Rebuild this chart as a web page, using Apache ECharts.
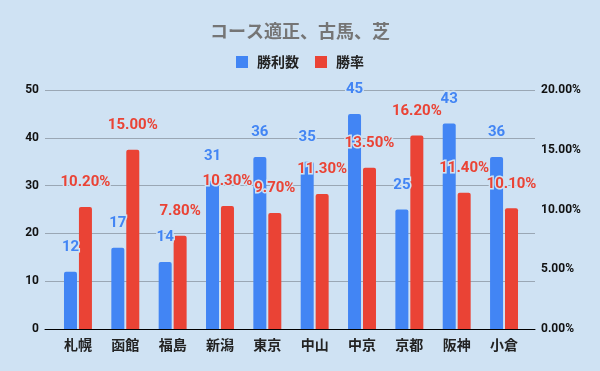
<!DOCTYPE html>
<html><head><meta charset="utf-8">
<script src="https://cdn.jsdelivr.net/npm/echarts@6/dist/echarts.min.js"></script>
<style>html,body{margin:0;padding:0;background:#cfe2f3}#c{width:600px;height:371px}</style>
</head><body><div id="c"></div>
<script>
const titleText = 'コース適正、古馬、芝';
const categories = ['札幌','函館','福島','新潟','東京','中山','中京','京都','阪神','小倉'];
const winsName = '勝利数';
const rateName = '勝率';
const wins = [12,17,14,31,36,35,45,25,43,36];
const rates = [10.2,15.0,7.8,10.3,9.7,11.3,13.5,16.2,11.4,10.1];
const leftTicks = [0,50,10];
const rightTicks = [0,20,5];

const FF = 'Roboto, "Noto Sans CJK JP", sans-serif';
const FJ = '"Noto Sans CJK JP", Roboto, sans-serif';
const BG = '#cfe2f3';
const BLUE = '#4285f4', RED = '#ea4335';
const pct = v => v.toFixed(2) + '%';

const chart = echarts.init(document.getElementById('c'), null, {renderer:'canvas'});
chart.setOption({
  backgroundColor: BG,
  animation: false,
  title: {text: titleText, left: 'center', top: 22, padding: 0,
    textStyle:{fontFamily:FJ, fontSize:18, fontWeight:'bold', color:'#757575'}},
  legend: {left: 'center', top: 55, padding: 0, itemWidth: 12, itemHeight: 12, itemGap: 16,
    icon: 'rect',
    textStyle:{fontFamily:FJ, fontSize:14, fontWeight:'bold', color:'#222', padding:[0,0,0,4]},
    data:[winsName, rateName]},
  grid: [
    {left: 45, right: 65, top: 90, bottom: 42, containLabel:false},
    {left: 54.3, right: 72.3, top: 90, bottom: 42, containLabel:false}
  ],
  xAxis: [
    {gridIndex:0, type:'value', min:0, max:1, show:true,
      axisLine:{show:true, onZero:false, lineStyle:{color:'#000', width:1}},
      axisTick:{show:false}, axisLabel:{show:false}, splitLine:{show:false}},
    {gridIndex:1, type:'category', data: categories,
      axisLine:{show:false}, axisTick:{show:false},
      axisLabel:{fontFamily:FJ, fontSize:14, fontWeight:'bold', color:'#222', margin:9}}
  ],
  yAxis: [
    {gridIndex:0, type:'value', min:leftTicks[0], max:leftTicks[1], interval:leftTicks[2],
      axisLine:{show:false}, axisTick:{show:false},
      axisLabel:{fontFamily:FF, fontSize:12, fontWeight:'bold', color:'#111', margin:6},
      splitLine:{lineStyle:{color:'#9aa7b4', width:1}}},
    {gridIndex:0, type:'value', position:'right', min:rightTicks[0], max:rightTicks[1], interval:rightTicks[2],
      axisLine:{show:false}, axisTick:{show:false},
      axisLabel:{fontFamily:FF, fontSize:12, fontWeight:'bold', color:'#111', margin:6, formatter: v => pct(v)},
      splitLine:{show:false}},
    {gridIndex:1, type:'value', min:leftTicks[0], max:leftTicks[1], show:false},
    {gridIndex:1, type:'value', min:rightTicks[0], max:rightTicks[1], show:false}
  ],
  series: [
    {name: winsName, type:'bar', xAxisIndex:1, yAxisIndex:2, data: wins,
      barWidth: 13, barGap: '15%', itemStyle:{color:BLUE, borderRadius:[2,2,0,0]},
      label:{show:true, position:'top', distance:17, fontFamily:FF, fontSize:15, fontWeight:'bold',
        color:BLUE, textBorderColor:BG, textBorderWidth:3}},
    {name: rateName, type:'bar', xAxisIndex:1, yAxisIndex:3, data: rates,
      barWidth: 13, barGap: '15%', itemStyle:{color:RED, borderRadius:[2,2,0,0]},
      label:{show:true, position:'top', distance:17, fontFamily:FF, fontSize:15, fontWeight:'bold',
        color:RED, textBorderColor:BG, textBorderWidth:3, formatter: p => pct(p.value)}}
  ]
});
</script></body></html>
